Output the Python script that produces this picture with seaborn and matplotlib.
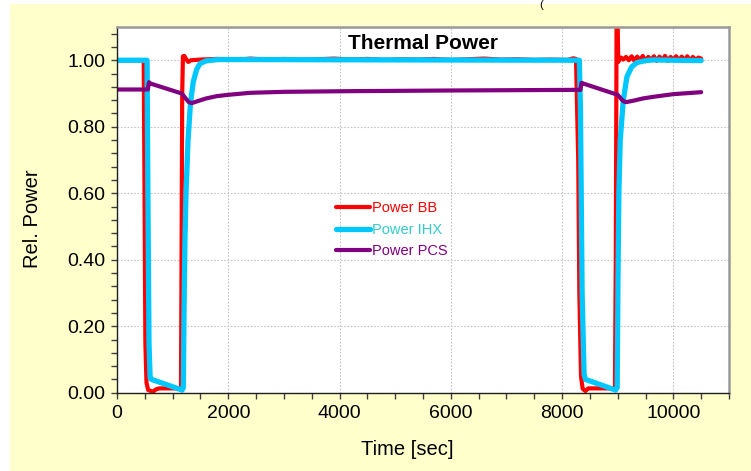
import matplotlib
matplotlib.use("Agg")
import matplotlib.pyplot as plt
from matplotlib.patches import Rectangle
from matplotlib.ticker import MultipleLocator, FormatStrFormatter
import seaborn as sns
import pandas as pd

# Relative thermal power of the blanket (BB), intermediate heat exchanger (IHX)
# and power conversion system (PCS) over two pulse/dwell cycles.
bb_time = [0, 480, 495, 510, 530, 560, 650, 700, 760, 1150, 1160, 1172, 1185, 1210,
           1240, 1280, 1330, 1500, 1800, 2100, 2400, 2700, 3000, 3300, 3600, 3900,
           4200, 4500, 4800, 5100, 5400, 5700, 6000, 6300, 6600, 6900, 7200, 7500,
           7800, 8100, 8200, 8250, 8290, 8310, 8340, 8370, 8420, 8470, 8950, 8965,
           8980, 8995, 9010, 9030, 9060, 9100, 9150, 9200, 9250, 9300, 9350, 9400,
           9450, 9500, 9550, 9600, 9650, 9700, 9750, 9800, 9850, 9900, 9950, 10000,
           10050, 10100, 10150, 10200, 10250, 10300, 10350, 10400, 10450, 10500]
bb_power = [1.000, 1.000, 0.600, 0.150, 0.030, 0.008, 0.003, 0.010, 0.013, 0.013, 0.400,
            0.900, 1.012, 1.013, 1.004, 0.995, 1.000, 1.002, 1.004, 1.001, 1.005, 1.002,
            1.004, 1.001, 1.003, 1.005, 1.002, 1.004, 1.001, 1.003, 1.002, 1.004, 1.001,
            1.003, 1.005, 1.002, 1.003, 1.001, 1.002, 1.001, 1.006, 1.004, 0.700, 0.300,
            0.050, 0.012, 0.005, 0.013, 0.013, 0.400, 1.150, 1.150, 0.995, 1.005, 1.008,
            1.002, 1.010, 1.000, 1.012, 0.998, 1.011, 1.000, 1.013, 0.997, 1.010, 1.001,
            1.012, 0.998, 1.011, 1.000, 1.013, 0.998, 1.010, 1.001, 1.012, 0.999, 1.011,
            1.000, 1.012, 0.998, 1.010, 1.001, 1.008, 1.005]

ihx_time = [0, 540, 555, 575, 595, 620, 1170, 1192, 1205, 1220, 1240, 1277, 1320,
            1371, 1430, 1493, 1600, 1800, 2500, 5000, 8310, 8330, 8360, 8395, 8420,
            8960, 8990, 9005, 9020, 9045, 9100, 9165, 9250, 9345, 9500, 9640, 10000, 10500]
ihx_power = [1.000, 1.000, 0.600, 0.150, 0.045, 0.040, 0.008, 0.015, 0.250, 0.450,
             0.600, 0.760, 0.870, 0.935, 0.972, 0.990, 0.998, 1.002, 1.002, 1.001,
             1.000, 0.850, 0.300, 0.055, 0.040, 0.008, 0.015, 0.350, 0.600, 0.760,
             0.880, 0.950, 0.980, 0.993, 0.999, 1.001, 1.000, 0.999]

pcs_time = [0, 555, 575, 600, 1165, 1230, 1290, 1343, 1450, 1600, 1792, 2000, 2390,
            3000, 4190, 6000, 8330, 8350, 8380, 9000, 9050, 9100, 9150, 9300, 9450,
            9640, 10000, 10500]
pcs_power = [0.912, 0.912, 0.934, 0.930, 0.900, 0.886, 0.874, 0.871, 0.877, 0.885,
             0.892, 0.896, 0.902, 0.905, 0.907, 0.909, 0.911, 0.932, 0.930, 0.896,
             0.886, 0.877, 0.874, 0.879, 0.885, 0.890, 0.898, 0.904]

series_names = ["Power BB", "Power IHX", "Power PCS"]
line_colors = ["#FF0000", "#00C8FF", "#800080"]
label_colors = ["#FF0000", "#33CCCC", "#800080"]
line_widths = [3.0, 3.8, 3.0]

x_ticks = [0, 2000, 4000, 6000, 8000, 10000]
y_ticks = [0.0, 0.2, 0.4, 0.6, 0.8, 1.0]

sns.set_style("ticks")
plt.rcParams["font.family"] = ["Liberation Sans", "DejaVu Sans"]

fig = plt.figure(figsize=(7.51, 4.71), dpi=100)
fig.patch.set_facecolor("white")
fig.patches.append(Rectangle((10 / 751, 0), 1, 467 / 471, transform=fig.transFigure,
                             facecolor="#FFFFCC", edgecolor="none", zorder=-10))
fig.text(541 / 751, 1.0, "(", ha="center", va="top", fontsize=8,
         color="#000000", fontweight="light")

ax = fig.add_axes([117 / 751, 1 - 392.7 / 471, 612 / 751, 365.7 / 471])
ax.set_zorder(1)
ax.set_facecolor("white")

frames = [
    pd.DataFrame({"t": bb_time, "p": bb_power}),
    pd.DataFrame({"t": ihx_time, "p": ihx_power}),
    pd.DataFrame({"t": pcs_time, "p": pcs_power}),
]
for df, name, col, lw in zip(frames, series_names, line_colors, line_widths):
    sns.lineplot(data=df, x="t", y="p", ax=ax, color=col, linewidth=lw, label=name,
                 sort=False, estimator=None, solid_capstyle="round",
                 solid_joinstyle="round")

ax.set_xlim(0, 11000)
ax.set_ylim(0, 1.1)
ax.set_xticks(x_ticks)
ax.set_yticks(y_ticks)
ax.xaxis.set_minor_locator(MultipleLocator(500))
ax.yaxis.set_minor_locator(MultipleLocator(0.04))
ax.yaxis.set_major_formatter(FormatStrFormatter("%.2f"))
ax.tick_params(axis="both", which="both", direction="out", length=4.5, width=1,
               color="#404040", labelsize=14, labelcolor="black", pad=4)
ax.grid(True, which="major", color="#C4C4C4", linestyle=(0, (1.5, 1.5)), linewidth=0.8)

for side in ["left", "bottom"]:
    ax.spines[side].set_color("#202020")
    ax.spines[side].set_linewidth(1.0)
for side in ["top", "right"]:
    ax.spines[side].set_color("#999999")
    ax.spines[side].set_linewidth(1.8)

ax.set_xlabel("Time [sec]", fontsize=14.5, color="black")
ax.set_ylabel("Rel. Power", fontsize=14.5, color="black")
ax.xaxis.set_label_coords(0.475, -0.128)
ax.yaxis.set_label_coords(-0.123, 0.475)

ax.text(0.5, 0.955, "Thermal Power", transform=ax.transAxes, ha="center", va="center",
        fontsize=15, fontweight="bold", color="black")

leg = ax.legend(loc="upper left", bbox_to_anchor=(0.358, 0.523), frameon=False,
                fontsize=10.5, handlelength=2.3, handletextpad=0.15, borderpad=0,
                borderaxespad=0, labelspacing=0.5)
for txt, c in zip(leg.get_texts(), label_colors):
    txt.set_color(c)

fig.savefig("out.png", dpi=100)
